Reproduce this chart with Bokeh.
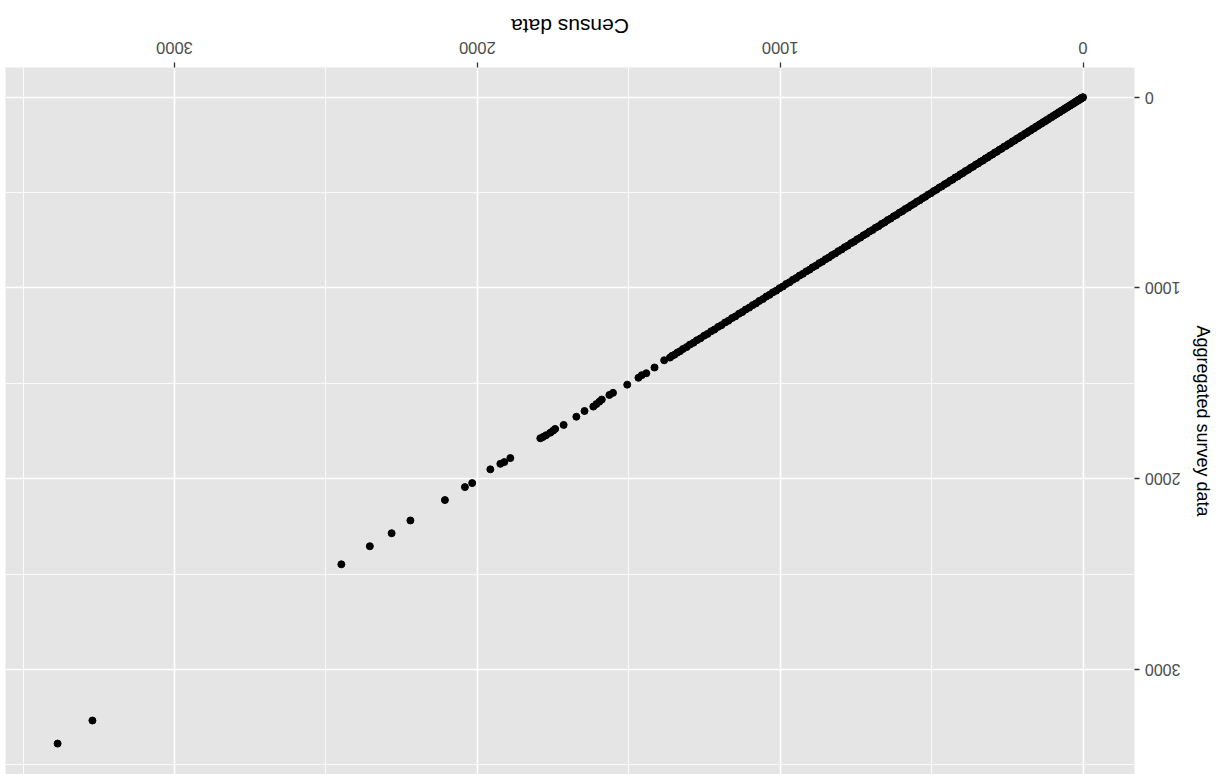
import math
from bokeh.plotting import figure
from bokeh.models import Range1d, FixedTicker, ColumnDataSource, LinearAxis
from bokeh.embed import file_html
from bokeh.resources import INLINE

# ---- data ----
dense_census = [0, 1, 2, 3, 5, 6, 8, 10, 12, 14,
                16, 19, 21, 24, 27, 29, 32, 35, 39, 42,
                45, 49, 53, 56, 60, 64, 68, 73, 77, 81,
                86, 91, 95, 100, 105, 110, 116, 121, 126, 132,
                137, 143, 149, 155, 161, 167, 173, 179, 186, 192,
                199, 205, 212, 219, 226, 233, 240, 247, 254, 261,
                269, 276, 284, 291, 299, 307, 314, 322, 330, 338,
                346, 354, 363, 371, 379, 388, 396, 405, 413, 422,
                431, 439, 448, 457, 466, 475, 484, 493, 502, 512,
                521, 530, 539, 549, 558, 568, 577, 587, 596, 606,
                616, 625, 635, 645, 655, 665, 675, 685, 695, 705,
                715, 725, 735, 746, 756, 766, 777, 787, 797, 808,
                818, 829, 839, 850, 861, 871, 882, 893, 903, 914,
                925, 936, 947, 958, 969, 980, 991, 1002, 1013, 1024,
                1035, 1046, 1057, 1069, 1080, 1091, 1102, 1114, 1125, 1136,
                1148, 1159, 1171, 1182, 1194, 1205, 1217, 1228, 1240, 1251,
                1263, 1275, 1286, 1298, 1309, 1321, 1331, 1340, 1349, 1357,
                1364]
dense_survey = [0, 1, 3, 3, 4, 6, 9, 10, 11, 15,
                16, 18, 22, 24, 26, 30, 32, 36, 38, 43,
                45, 48, 54, 56, 59, 65, 68, 72, 78, 80,
                87, 90, 96, 99, 106, 109, 117, 120, 127, 131,
                138, 142, 150, 154, 162, 166, 174, 178, 187, 191,
                200, 204, 213, 218, 227, 232, 241, 246, 255, 260,
                270, 275, 285, 290, 300, 306, 315, 321, 331, 337,
                347, 353, 364, 370, 380, 387, 397, 404, 414, 421,
                432, 438, 449, 456, 467, 474, 485, 492, 503, 511,
                522, 529, 540, 548, 559, 567, 578, 586, 597, 605,
                617, 624, 636, 644, 656, 664, 676, 684, 696, 704,
                716, 724, 736, 745, 757, 765, 778, 786, 798, 807,
                819, 828, 840, 849, 862, 870, 883, 892, 904, 913,
                926, 935, 948, 957, 970, 979, 992, 1001, 1014, 1023,
                1036, 1045, 1058, 1068, 1081, 1090, 1103, 1113, 1126, 1135,
                1149, 1158, 1172, 1181, 1195, 1204, 1218, 1227, 1241, 1250,
                1264, 1274, 1287, 1297, 1310, 1320, 1332, 1339, 1350, 1356,
                1365]
sparse_census = [1383, 1415, 1442, 1457, 1468, 1505, 1552, 1564, 1589, 1597,
                 1607, 1617, 1646, 1673, 1715, 1743, 1750, 1759, 1773, 1783,
                 1792, 1891, 1911, 1924, 1957, 2017, 2041, 2107, 2221, 2283,
                 2355, 2449, 3271, 3386]
sparse_survey = [1379, 1417, 1447, 1457, 1471, 1507, 1550, 1561, 1585, 1596,
                 1609, 1622, 1645, 1675, 1718, 1739, 1748, 1759, 1772, 1781,
                 1788, 1892, 1913, 1922, 1951, 2023, 2044, 2112, 2219, 2286,
                 2354, 2449, 3268, 3389]
major_ticks = [0, 1000, 2000, 3000]
minor_ticks = [500, 1500, 2500, 3500]
tick_labels = ["0", "1000", "2000", "3000"]
x_title = "Census data"
y_title = "Aggregated survey data"

census = dense_census + sparse_census
survey = dense_survey + sparse_survey
src = ColumnDataSource(data=dict(census=census, survey=survey))

FONT = "Liberation Sans"
LABEL_GREY = "#4D4D4D"
X_START, X_END = 3558, -170
Y_START, Y_END = 3551, -156
W, H = 1219, 774
BORDER_L, BORDER_R, BORDER_T = 5, 85, 67
FRAME_W = W - BORDER_L - BORDER_R
PX_PER_UNIT = FRAME_W / float(X_START - X_END)

# Liberation Sans advance widths (em) used to centre the flipped texts,
# since Bokeh anchors a label rotated by pi at one end of the text
DIGIT_EM = 0.556
TITLE_EM = 5.614
TICK_PX = 16.5
TITLE_PX = 21.0

p = figure(width=W, height=H,
           x_range=Range1d(X_START, X_END), y_range=Range1d(Y_START, Y_END),
           x_axis_location="above", y_axis_location="right",
           output_backend="svg", toolbar_location=None,
           min_border_left=BORDER_L, min_border_bottom=0,
           min_border_top=BORDER_T, min_border_right=BORDER_R)
p.background_fill_color = "#E5E5E5"
p.border_fill_color = "white"
p.outline_line_color = None

for ax in (p.xaxis[0], p.yaxis[0]):
    ax.ticker = FixedTicker(ticks=major_ticks, minor_ticks=minor_ticks)
    ax.axis_line_color = None
    ax.major_tick_in = 0
    ax.major_tick_out = 5
    ax.major_tick_line_color = "#333333"
    ax.major_tick_line_width = 1.3
    ax.minor_tick_in = 0
    ax.minor_tick_out = 0
    ax.major_label_text_font = FONT
    ax.major_label_text_color = LABEL_GREY
    ax.major_label_orientation = math.pi
    ax.axis_label_text_font = FONT
    ax.axis_label_text_font_style = "normal"
    ax.axis_label_text_color = "black"

# top axis: tick marks only (labels on the next axis)
xa = p.xaxis[0]
xa.major_label_text_color = None


def text_shift(n_em, font_px):
    """data-unit shift that centres a flipped text of n_em em on its tick"""
    return n_em * font_px / 2.0 / PX_PER_UNIT


# upside-down tick labels, centred over the ticks
label_pos = [t - text_shift(len(lab) * DIGIT_EM, TICK_PX)
             for t, lab in zip(major_ticks, tick_labels)]
label_axis = LinearAxis(ticker=FixedTicker(ticks=label_pos, minor_ticks=[]),
                        major_label_overrides=dict(zip(label_pos, tick_labels)),
                        major_label_orientation=math.pi,
                        major_label_standoff=15,
                        major_label_text_font=FONT,
                        major_label_text_font_size="%.1fpx" % TICK_PX,
                        major_label_text_color=LABEL_GREY,
                        major_tick_out=0, major_tick_in=0,
                        minor_tick_out=0, minor_tick_in=0,
                        axis_line_color=None)
p.add_layout(label_axis, "above")

# upside-down x title, centred over the panel
title_pos = (X_START + X_END) / 2.0 - text_shift(TITLE_EM, TITLE_PX)
title_axis = LinearAxis(ticker=FixedTicker(ticks=[title_pos], minor_ticks=[]),
                        major_label_overrides={title_pos: x_title},
                        major_label_orientation=math.pi,
                        major_label_standoff=6,
                        major_label_text_font=FONT,
                        major_label_text_font_size="%.1fpx" % TITLE_PX,
                        major_label_text_color="black",
                        major_tick_out=0, major_tick_in=0,
                        minor_tick_out=0, minor_tick_in=0,
                        axis_line_color=None)
p.add_layout(title_axis, "above")

# right axis: flipped tick labels; "0" padded so all labels line up on their far edge
ya = p.yaxis[0]
ya.major_label_text_font_size = "16px"
ya.major_label_standoff = 41
ya.major_label_overrides = {0: "\u2007\u2007\u20070"}
ya.axis_label = y_title
ya.axis_label_text_font_size = "18px"
ya.axis_label_standoff = -26

for g in (p.xgrid[0], p.ygrid[0]):
    g.grid_line_color = "white"
    g.grid_line_width = 1.6
    g.minor_grid_line_color = "white"
    g.minor_grid_line_width = 0.8

p.scatter("census", "survey", source=src, size=7, color="black")

open("out.html", "w").write(file_html(p, INLINE))
